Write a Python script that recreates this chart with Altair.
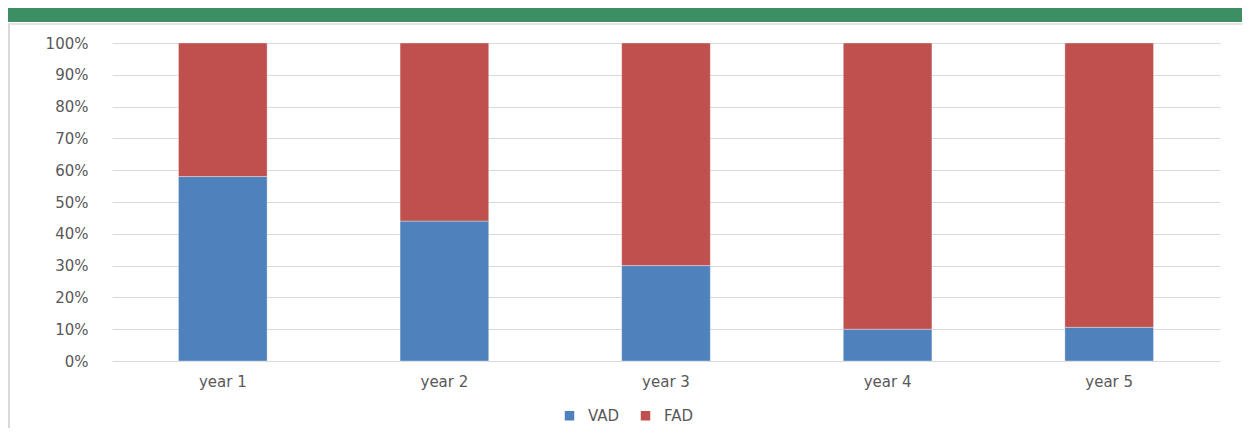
import altair as alt
import pandas as pd

years = ["year 1", "year 2", "year 3", "year 4", "year 5"]
vad = [58, 44, 30, 10, 10.6]
fad = [42, 56, 70, 90, 89.4]
series = ["VAD", "FAD"]
colors = ["#4f81bd", "#c0504d"]

rows = []
for i, y in enumerate(years):
    rows.append({"year": y, "series": "VAD", "value": vad[i], "ord": 0})
    rows.append({"year": y, "series": "FAD", "value": fad[i], "ord": 1})
df = pd.DataFrame(rows)

W, H = 1108, 318
FONT = "DejaVu Sans"
GRAY = "#595959"
FS = 15

bars = alt.Chart(df).mark_bar(stroke="#ffffff", strokeOpacity=0.35, strokeWidth=1).encode(
    x=alt.X("year:N", sort=years, title=None,
            scale=alt.Scale(paddingInner=0.6, paddingOuter=0.3),
            axis=alt.Axis(labelAngle=0, domain=False, ticks=False, grid=False, labelPadding=13,
                          labelFont=FONT, labelFontSize=FS, labelColor=GRAY)),
    y=alt.Y("value:Q", stack="normalize", title=None,
            scale=alt.Scale(domain=[0, 1]),
            axis=alt.Axis(format="%", values=[i / 10 for i in range(11)],
                          domain=False, ticks=False, labelPadding=24,
                          gridColor="#d9d9d9", gridWidth=1,
                          labelFont=FONT, labelFontSize=FS, labelColor=GRAY)),
    color=alt.Color("series:N", scale=alt.Scale(domain=series, range=colors),
                    legend=alt.Legend(title=None, orient="none", direction="horizontal",
                                      legendX=450, legendY=365, symbolType="square",
                                      symbolSize=90, symbolStrokeWidth=0,
                                      labelFont=FONT, labelFontSize=FS, labelColor=GRAY,
                                      columnPadding=18, labelOffset=11)),
    order=alt.Order("ord:Q", sort="ascending"),
)

deco = alt.Data(values=[{"k": 1}])
header = alt.Chart(deco).mark_rect(color="#3c8f62").encode(
    x=alt.value(-110), x2=alt.value(1140), y=alt.value(-40), y2=alt.value(-21)
)
vline = alt.Chart(deco).mark_rule(color="#d9d9d9", strokeWidth=2).encode(
    x=alt.value(-103), y=alt.value(-20), y2=alt.value(400)
)
hline = alt.Chart(deco).mark_rule(color="#e3e3e3", strokeWidth=2).encode(
    x=alt.value(-103), x2=alt.value(1140), y=alt.value(-19)
)

chart = alt.layer(header, vline, hline, bars).properties(
    width=W, height=H,
    autosize=alt.AutoSizeParams(type="none"),
    padding={"left": 104, "top": 35, "right": 22, "bottom": 67},
).configure(background="white").configure_view(stroke=None)

chart.save("out.html", embed_options={"renderer": "svg", "actions": False})
